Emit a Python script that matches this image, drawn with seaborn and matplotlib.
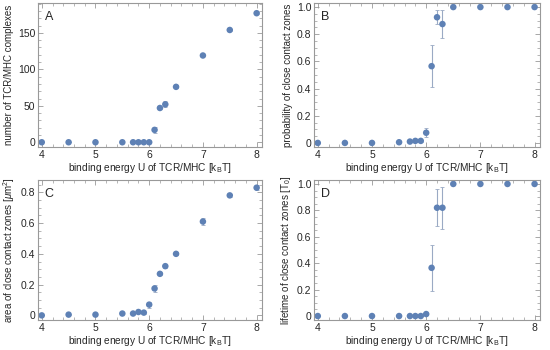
import numpy as np
import pandas as pd
import matplotlib
matplotlib.use("Agg")
import matplotlib.pyplot as plt
import seaborn as sns
from matplotlib.ticker import MultipleLocator, FuncFormatter

# binding energies (k_B T)
energy = [4.0, 4.5, 5.0, 5.5, 5.7, 5.8, 5.9, 6.0, 6.1, 6.2, 6.3, 6.5, 7.0, 7.5, 8.0]

# A: number of TCR/MHC complexes
n_complex = [0, 0, 0, 0, 0, 0, 0, 0, 17, 47, 52, 76, 119, 154, 177]
n_complex_err = [0, 0, 0, 0, 0, 0, 0, 0.5, 4, 2, 4, 2, 1, 1, 1]

# B: probability of close contact zones
prob = [0, 0, 0, 0.005, 0.01, 0.015, 0.015, 0.075, 0.565, 0.925, 0.875, 1, 1, 1, 1]
prob_err = [0, 0, 0, 0, 0.003, 0.005, 0.005, 0.035, 0.155, 0.05, 0.105, 0, 0, 0, 0]

# C: area of close contact zones (um^2)
area = [0, 0.005, 0.005, 0.012, 0.012, 0.022, 0.018, 0.07, 0.175, 0.27, 0.32, 0.40, 0.61, 0.78, 0.83]
area_err = [0, 0.003, 0.003, 0.004, 0.004, 0.006, 0.006, 0.02, 0.02, 0.01, 0.01, 0.01, 0.02, 0.01, 0.015]

# D: lifetime of close contact zones (T_0)
lifetime = [0, 0, 0, 0, 0, 0, 0, 0.015, 0.365, 0.82, 0.82, 1, 1, 1, 1]
lifetime_err = [0, 0, 0, 0, 0, 0, 0, 0.005, 0.175, 0.14, 0.16, 0, 0, 0, 0]

panels = [
    ("A", n_complex, n_complex_err, "number of TCR/MHC complexes", (-6.5, 191), 50, 10),
    ("B", prob, prob_err, "probability of close contact zones", (-0.03, 1.03), 0.2, 0.05),
    ("C", area, area_err, r"area of close contact zones [$\mu$m$^2$]", (-0.03, 0.88), 0.2, 0.05),
    ("D", lifetime, lifetime_err, r"lifetime of close contact zones [T$_0$]", (-0.03, 1.03), 0.2, 0.05),
]

sns.set_style("ticks")
plt.rcParams["font.family"] = ["Liberation Sans", "DejaVu Sans"]
plt.rcParams["mathtext.fontset"] = "custom"
plt.rcParams["mathtext.rm"] = "Liberation Sans"
plt.rcParams["mathtext.it"] = "Liberation Sans:italic"

color = "#5E81B5"
frame = "#999999"

fig = plt.figure(figsize=(5.5, 3.5), dpi=100)
W, H = 550, 350
boxes = [(38, 3, 262, 147), (314, 3, 540, 147), (38, 180, 262, 320), (314, 180, 540, 320)]


def fmt(v, pos):
    if abs(v) < 1e-9:
        return "0"
    if abs(v - round(v)) < 1e-9 and abs(v) >= 2:
        return "%d" % round(v)
    return "%.1f" % v


for (letter, y, yerr, ylabel, ylim, major, minor), (l, t, r, b) in zip(panels, boxes):
    ax = fig.add_axes([l / W, 1 - b / H, (r - l) / W, (b - t) / H])
    df = pd.DataFrame({"energy": energy, "value": y, "err": yerr})
    ax.errorbar(df["energy"], df["value"], yerr=df["err"], fmt="none",
                ecolor="#9aaac4", elinewidth=0.8, capsize=1.5, capthick=0.6, zorder=1)
    sns.scatterplot(data=df, x="energy", y="value", ax=ax, color=color,
                    s=22, edgecolor="none", zorder=2)
    ax.set_xlim(3.93, 8.1)
    ax.set_ylim(*ylim)
    ax.xaxis.set_major_locator(MultipleLocator(1))
    ax.xaxis.set_minor_locator(MultipleLocator(0.2))
    ax.yaxis.set_major_locator(MultipleLocator(major))
    ax.yaxis.set_minor_locator(MultipleLocator(minor))
    ax.yaxis.set_major_formatter(FuncFormatter(fmt))
    ax.tick_params(which="both", direction="in", top=True, right=True,
                   color=frame, labelsize=7.5, pad=2)
    ax.tick_params(which="major", length=3.5, width=0.6)
    ax.tick_params(which="minor", length=2, width=0.5)
    for s in ax.spines.values():
        s.set_color(frame)
        s.set_linewidth(0.8)
    ax.set_xlabel(r"binding energy U of TCR/MHC [k$_\mathrm{B}$T]", fontsize=7.3, labelpad=1)
    ax.set_ylabel(ylabel, fontsize=7.0, labelpad=3)
    ax.text(0.03, 0.9, letter, transform=ax.transAxes, fontsize=9, va="center")

fig.savefig("out.png", dpi=100)
